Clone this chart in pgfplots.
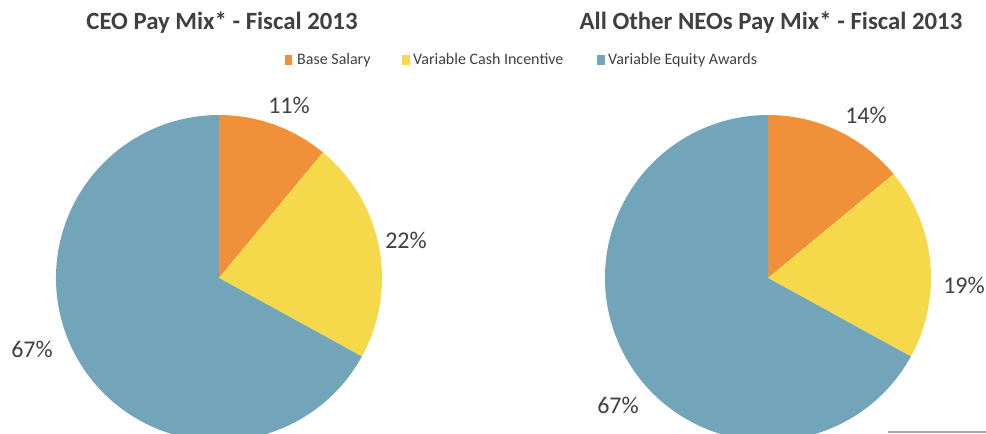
\documentclass[border=0pt]{standalone}
\usepackage{pgfplots}
\pgfplotsset{compat=1.18}
\usepackage{pgfplotstable}
\usepackage{fontspec}
\setmainfont{Carlito}
\definecolor{cOrange}{HTML}{F0913A}
\definecolor{cYellow}{HTML}{F5D94A}
\definecolor{cBlue}{HTML}{72A5BA}
\definecolor{cText}{HTML}{404040}
% pie data: share in percent
\pgfplotstableread{
slice pct color
1 11 cOrange
2 22 cYellow
3 67 cBlue
}\ceodata
\pgfplotstableread{
slice pct color
1 14 cOrange
2 19 cYellow
3 67 cBlue
}\neodata
\newcommand\drawpie[3]{% table, cx, cy
  \pgfplotstablegetrowsof{#1}\pgfmathtruncatemacro\nrows{\pgfplotsretval-1}%
  \gdef\angA{90}%
  \foreach \i in {0,...,\nrows}{%
    \pgfplotstablegetelem{\i}{pct}\of{#1}\let\pv\pgfplotsretval
    \pgfplotstablegetelem{\i}{color}\of{#1}\let\pc\pgfplotsretval
    \pgfmathsetmacro\angB{\angA-3.6*\pv}%
    \fill[\pc] (axis cs:#2,#3) -- ++(\angA:163pt) arc[start angle=\angA,end angle=\angB,radius=163pt] -- cycle;
    \xdef\angA{\angB}%
  }%
}
\begin{document}
\begin{tikzpicture}
\begin{axis}[
  name=main,
  width=986pt, height=434pt, scale only axis,
  xmin=0, xmax=986, ymin=0, ymax=434,
  hide axis, clip=true,
]
\pgfplotsextra{\drawpie{\ceodata}{219}{156}}
\pgfplotsextra{\drawpie{\neodata}{768}{156}}
% titles
\node[font=\bfseries\fontsize{24.8}{28}\selectfont, text=cText] at (axis cs:222,411) {CEO Pay Mix* - Fiscal 2013};
\node[font=\bfseries\fontsize{24.8}{28}\selectfont, text=cText] at (axis cs:771,411) {All Other NEOs Pay Mix* - Fiscal 2013};
% legend
\pgfplotsextra{
\fill[cOrange] (axis cs:285,369) rectangle (axis cs:292,379);
\fill[cYellow] (axis cs:402,369) rectangle (axis cs:410,379);
\fill[cBlue] (axis cs:597,369) rectangle (axis cs:605,379);
}
\node[font=\fontsize{16}{19}\selectfont, text=cText, anchor=base west, inner sep=0pt] at (axis cs:297,369) {Base Salary};
\node[font=\fontsize{16}{19}\selectfont, text=cText, anchor=base west, inner sep=0pt] at (axis cs:413,369) {Variable Cash Incentive};
\node[font=\fontsize{16}{19}\selectfont, text=cText, anchor=base west, inner sep=0pt] at (axis cs:608,369) {Variable Equity Awards};
% data labels
\node[font=\fontsize{24}{27}\selectfont, text=cText] at (axis cs:289,329) {11\%};
\node[font=\fontsize{24}{27}\selectfont, text=cText] at (axis cs:406,194) {22\%};
\node[font=\fontsize{24}{27}\selectfont, text=cText] at (axis cs:32,85) {67\%};
\node[font=\fontsize{24}{27}\selectfont, text=cText] at (axis cs:866,319) {14\%};
\node[font=\fontsize{24}{27}\selectfont, text=cText] at (axis cs:964,149) {19\%};
\node[font=\fontsize{24}{27}\selectfont, text=cText] at (axis cs:618,29) {67\%};
% small gray rule at bottom right
\pgfplotsextra{\draw[gray!70, line width=1.5pt] (axis cs:888,2) -- (axis cs:986,2);}
\end{axis}
\pgfresetboundingbox
\path[use as bounding box] (main.south west) rectangle (main.north east);
\end{tikzpicture}
\end{document}
